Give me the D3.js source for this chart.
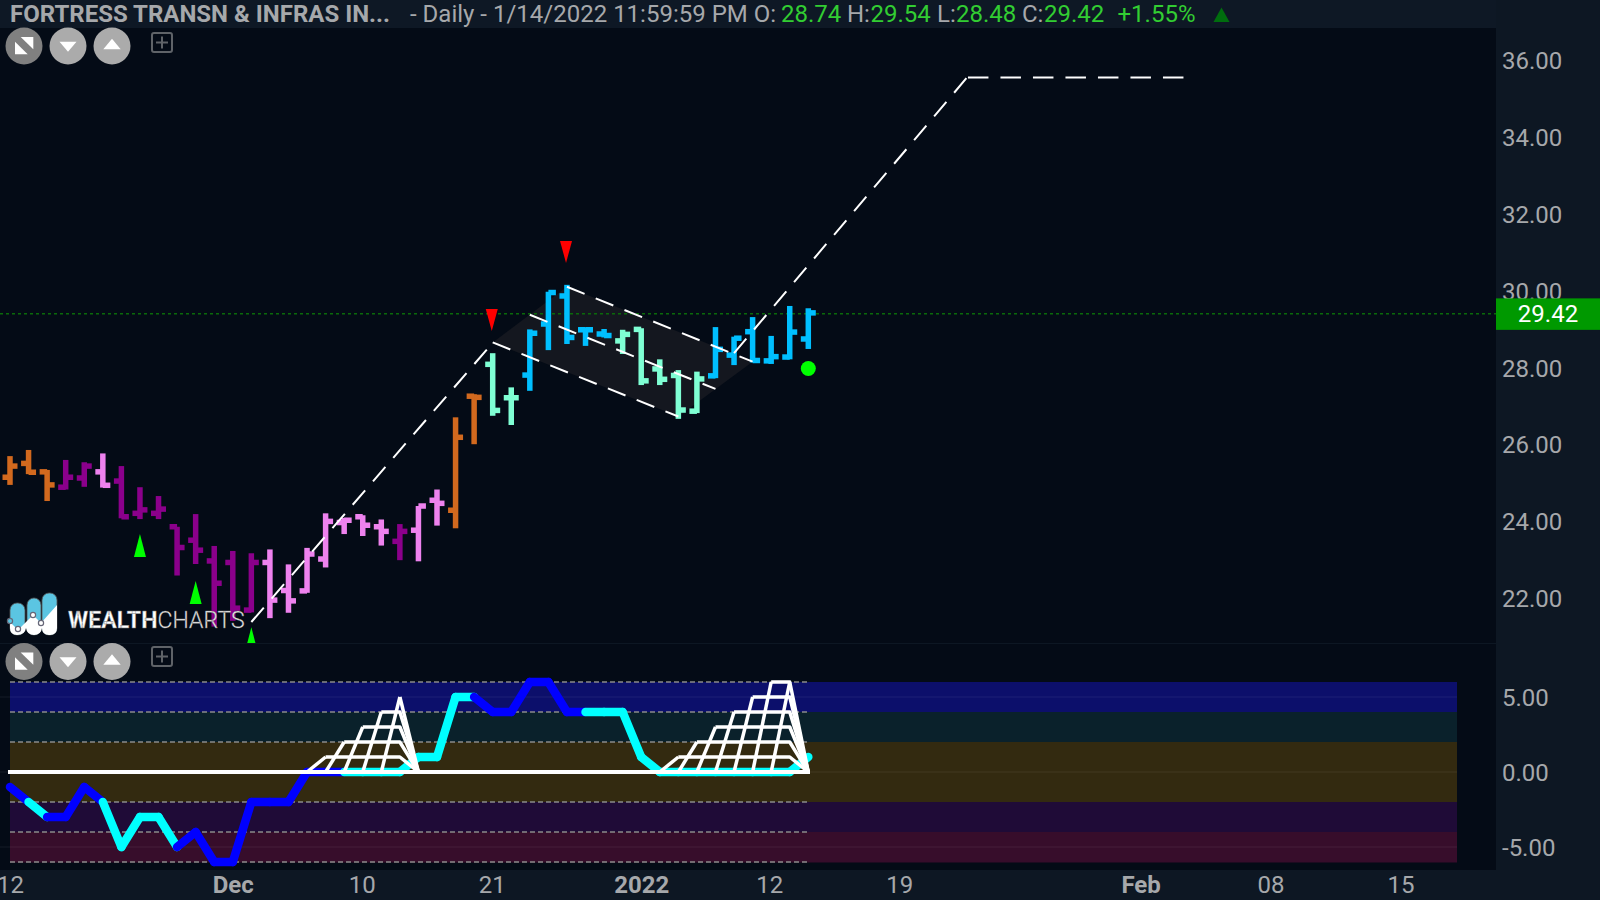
<!DOCTYPE html>
<html>
<head>
<meta charset="utf-8">
<script src="https://cdn.jsdelivr.net/npm/d3@7"></script>
<style>
html,body{margin:0;padding:0;background:#040b16;overflow:hidden}
svg{display:block}
text{font-family:Roboto,sans-serif}
</style>
</head>
<body>
<svg id="c" width="1600" height="900"></svg>
<script>
// ---------- data ----------
const opens  = [25.14,25.50,25.28,24.88,25.12,25.28,25.04,24.20,24.20,23.85,23.50,22.96,22.92,21.68,22.92,22.19,22.18,23.01,23.96,24.11,23.85,23.47,23.76,24.54,24.28,27.25,28.08,27.21,27.80,29.13,29.86,28.98,28.87,28.69,28.99,27.96,27.79,26.86,27.78,28.32,28.93,28.17,28.27,28.74];
const highs  = [25.69,25.85,25.33,25.59,25.53,25.76,25.43,24.88,24.65,23.85,24.18,23.35,23.22,23.16,23.26,22.87,23.30,24.20,24.08,24.15,24.04,23.92,24.39,24.82,26.70,27.30,28.37,27.48,28.99,29.97,30.15,29.04,29.00,28.98,29.02,28.21,27.93,27.89,29.05,28.80,29.31,28.82,29.60,29.54];
const lows   = [24.94,25.22,24.52,24.82,24.89,24.87,24.07,24.05,24.05,22.58,22.88,21.25,21.40,21.62,21.47,21.61,22.13,22.79,23.66,23.61,23.36,22.98,22.95,23.88,23.81,26.00,26.74,26.50,27.39,28.45,28.61,28.56,28.78,28.35,27.54,27.54,26.66,26.81,27.72,28.06,28.13,28.09,28.21,28.48];
const closes = [25.43,25.27,24.94,25.14,25.43,24.93,24.11,24.29,24.31,23.31,23.24,22.38,21.73,22.92,21.94,21.92,23.14,23.99,24.02,23.89,23.73,23.73,24.39,24.46,26.18,27.22,26.88,27.21,28.89,29.95,28.78,28.98,28.83,28.86,27.65,27.69,26.89,27.70,28.47,28.76,28.18,28.28,28.92,29.42];
const trend  = ["o","o","o","p","p","v","p","p","p","p","p","p","p","p","v","v","v","v","v","v","v","p","v","v","o","o","m","m","b","b","b","b","b","m","m","m","m","m","b","b","b","b","b","b"];
const gmo    = [-1,-2,-3,-3,-1,-2,-5,-3,-3,-5,-4,-6,-6,-2,-2,-2,0,0,0,0,0,0,1,1,5,5,4,4,6,6,4,4,4,4,1,0,0,0,0,0,0,0,0,1];
const gmoTrend = ["b","c","b","b","b","c","c","c","c","b","b","b","b","b","b","b","b","b","c","c","c","c","c","c","c","b","b","b","b","b","b","c","c","c","c","c","c","c","c","c","c","c","c"];
const wedgeA = [[17,1],[18,2],[19,3],[20,4],[21,5]];
const wedgeB = [[36,1],[37,2],[38,3],[39,4],[40,5],[41,6],[42,6]];
const priceTicks = [36,34,32,30,28,26,24,22];
const gmoTicks = [5,0,-5];
const bandEdges = [6,4,2,-2,-4,-6];
const gmoDashed = [6,4,2,-2,-4,-6];
const timeTicks = [[0,"12"],[12,"Dec"],[18.95,"10"],[25.95,"21"],[34,"2022"],[40.9,"12"],[47.9,"19"],[60.9,"Feb"],[67.9,"08"],[74.9,"15"]];
const boldTicks = ["Dec","2022","Feb"];
const upSignals = [[7,23.66],[10,22.44],[13,21.23]];
const downSignals = [[29.95,30.72],[25.95,28.95]];
const dotSignal = [43,27.97];
const lastClose = 29.42;
const channelLines = [[[30,30.10],[40,28.15]],[[28,29.37],[38,27.44]],[[26,28.65],[36,26.72]]];
const channelFill = [[26,28.65],[30,30.10],[40,28.15],[36,26.72]];
const trendIn = [[13,21.37],[26,28.64]];
const trendOut = [[39,28.37],[51.55,35.55]];
const trendFlat = [[51.6,35.55],[63.35,35.55]];
const header = [["- Daily - 1/14/2022 11:59:59 PM O:",410,0],["28.74",781,1],["H:",847,0],["29.54",870.5,1],["L:",937,0],["28.48",956,1],["C:",1022,0],["29.42",1044,1],["+1.55%",1117.5,1]];

// ---------- scales ----------
const x = d3.scaleLinear().domain([0,43]).range([10,808.3]);
const y = d3.scaleLinear().domain([36,22]).range([60.2,597.8]);
const yG = d3.scaleLinear().domain([6,-6]).range([682,862]);
const barColor = {o:"#d2691e",p:"#8b008b",v:"#ee82ee",m:"#7fffd4",b:"#00bfff"};
const gmoColor = {b:"#0000ff",c:"#00ffff"};
const bandColor = ["#0c0f6b","#0a212b","#332a10","#1f0b37","#370d2b"];
const svg = d3.select("#c");
const pt = d => [x(d[0]),y(d[1])];

// ---------- chrome ----------
svg.append("rect").attr("width",1600).attr("height",900).attr("fill","#040b16");
svg.append("rect").attr("width",1600).attr("height",28).attr("fill","#0e1825");
svg.append("rect").attr("x",1496).attr("width",104).attr("height",900).attr("fill","#0d1723");
svg.append("rect").attr("y",870).attr("width",1600).attr("height",30).attr("fill","#0d1723");
svg.append("line").attr("x1",0).attr("x2",1496).attr("y1",643.5).attr("y2",643.5).attr("stroke","#0d1723");

const defs = svg.append("defs");
defs.append("clipPath").attr("id","pane").append("rect").attr("x",0).attr("y",28).attr("width",1496).attr("height",615);

// ---------- price pane ----------
const pane = svg.append("g").attr("clip-path","url(#pane)");
pane.append("path").attr("d",d3.line()(channelFill.map(pt))+"Z").attr("fill","#14171f");
pane.append("line").attr("x1",0).attr("x2",1496).attr("y1",y(lastClose)+1).attr("y2",y(lastClose)+1)
  .attr("stroke","#0a6a0a").attr("stroke-width",1.5).attr("stroke-dasharray","3,3");

const bars = pane.selectAll("g.bar").data(opens.map((o,i)=>({i,o,h:highs[i],l:lows[i],c:closes[i],t:trend[i]}))).join("g")
  .attr("stroke",d=>barColor[d.t]).attr("stroke-width",5.5);
bars.append("line").attr("x1",d=>x(d.i)).attr("x2",d=>x(d.i)).attr("y1",d=>y(d.h)).attr("y2",d=>y(d.l));
bars.append("line").attr("x1",d=>x(d.i)-7.5).attr("x2",d=>x(d.i)).attr("y1",d=>y(d.o)).attr("y2",d=>y(d.o));
bars.append("line").attr("x1",d=>x(d.i)).attr("x2",d=>x(d.i)+7.5).attr("y1",d=>y(d.c)).attr("y2",d=>y(d.c));

const dash = d3.line();
[...channelLines,trendIn,trendOut].forEach(l=>{
  pane.append("path").attr("d",dash(l.map(pt))).attr("fill","none").attr("stroke","#fff")
    .attr("stroke-width",2).attr("stroke-dasharray","19,12");
});
pane.append("path").attr("d",dash(trendFlat.map(pt))).attr("fill","none").attr("stroke","#fff")
  .attr("stroke-width",2).attr("stroke-dasharray","20.5,12");
pane.selectAll("path.up").data(upSignals).join("path").attr("fill","#00ff00")
  .attr("d",d=>{const [a,b]=pt(d);return `M${a},${b}L${a+6},${b+23}L${a-6},${b+23}Z`;});
pane.selectAll("path.down").data(downSignals).join("path").attr("fill","#ff0000")
  .attr("d",d=>{const [a,b]=pt(d);return `M${a},${b}L${a+6},${b-22}L${a-6},${b-22}Z`;});
pane.append("circle").attr("cx",x(dotSignal[0])).attr("cy",y(dotSignal[1])).attr("r",7.5).attr("fill","#00ff00");

// ---------- logo ----------
const logo = svg.append("g").attr("class","logo");
[[10,603,15],[27,598,14],[42,593,15]].forEach(([a,b,w],k)=>{
  logo.append("rect").attr("x",a).attr("y",b).attr("width",w).attr("height",635-b).attr("rx",7).attr("fill","#5bc5e2").attr("stroke","#555").attr("stroke-width",.8);
});
logo.append("path").attr("d","M10,622 L18,630 L33,615 L41,623 L57,605 L57,628 Q57,635 50,635 L49,635 Q42,635 42,628 Q41,635 34,635 Q27,635 26,628 Q25,635 17,635 Q10,635 10,628Z").attr("fill","#fff");
[[10,621],[18,629],[33,615],[41,623]].forEach(([a,b],k)=>{
  logo.append("circle").attr("cx",a).attr("cy",b).attr("r",2.6).attr("fill",k==0?"#5bc5e2":"#fff").attr("stroke","#667").attr("stroke-width",1.2);
});
const lt = logo.append("text").attr("x",68).attr("y",628).attr("font-size",23).attr("fill","#fff").attr("stroke","#777").attr("stroke-width",.4).attr("letter-spacing",0.1);
lt.append("tspan").attr("font-weight",700).text("WEALTH");
lt.append("tspan").attr("font-weight",300).text("CHARTS");

// ---------- buttons ----------
function buttons(cy,by){
  const g = svg.append("g");
  [[24,"#808080"],[68,"#ababab"],[112,"#ababab"]].forEach(([cx,f])=>{
    g.append("circle").attr("cx",cx).attr("cy",cy).attr("r",18.5).attr("fill",f);
  });
  const tri = (cx,p)=>g.append("path").attr("fill","#fff").attr("d","M"+p.map(q=>[cx+q[0],cy+q[1]].join(",")).join("L")+"Z");
  tri(24,[[-3.3,-9],[9.3,-9],[9.3,3.3]]);
  tri(24,[[-9,-4.3],[-9,8.3],[3.7,8.3]]);
  tri(68,[[-8.5,-4.3],[8.5,-4.3],[0,5.7]]);
  tri(112,[[-8.7,3.3],[8.7,3.3],[0,-7.3]]);
  g.append("rect").attr("x",152).attr("y",by).attr("width",20).attr("height",19).attr("rx",2).attr("fill","none").attr("stroke","#5f6368").attr("stroke-width",2);
  g.append("path").attr("d",`M156,${by+9.5}H168M162,${by+3.5}V${by+15.5}`).attr("stroke","#5f6368").attr("stroke-width",2);
}
buttons(46,33);
buttons(661.5,647);

// ---------- oscillator pane ----------
const osc = svg.append("g");
d3.pairs(bandEdges).forEach(([a,b],i)=>{
  osc.append("rect").attr("x",10).attr("width",1447).attr("y",yG(a)).attr("height",yG(b)-yG(a)+.5).attr("fill",bandColor[i]);
});
gmoTicks.forEach(v=>{
  osc.append("line").attr("x1",0).attr("x2",1457).attr("y1",yG(v)).attr("y2",yG(v)).attr("stroke","#ffffff").attr("stroke-opacity",.07);
});
gmoDashed.forEach(v=>{
  osc.append("line").attr("x1",10).attr("x2",809).attr("y1",yG(v)).attr("y2",yG(v))
    .attr("stroke","#8a8a8a").attr("stroke-width",1.5).attr("stroke-dasharray","5,3");
});
gmoTrend.forEach((t,i)=>{
  osc.append("line").attr("x1",x(i)).attr("x2",x(i+1)).attr("y1",yG(gmo[i])).attr("y2",yG(gmo[i+1]))
    .attr("stroke",gmoColor[t]).attr("stroke-width",8.5).attr("stroke-linecap","round");
});
osc.append("line").attr("x1",8).attr("x2",810).attr("y1",yG(0)).attr("y2",yG(0)).attr("stroke","#fff").attr("stroke-width",4);
function wedge(w){
  const g = osc.append("g").attr("fill","none").attr("stroke","#fff").attr("stroke-width",3.5).attr("stroke-linejoin","round");
  const last = w[w.length-1][0], end = last+1;
  const l = d3.line().x(d=>x(d[0])).y(d=>yG(d[1]));
  w.forEach(([b,v])=>{
    g.append("path").attr("d",l([[b-1,0],[b,v]]));
  });
  w.forEach(([b,v],k)=>{
    if(k>0 && w[k-1][1]===v) return;
    g.append("path").attr("d",l([[b,v],[last,v],[end,0]]));
  });
}
wedge(wedgeA);
wedge(wedgeB);

// ---------- axes ----------
const fmt = v => d3.format(".2f")(v).replace("\u2212","-");
const axisStyle = (g,size)=>{
  g.select(".domain").remove();
  g.selectAll("line").remove();
  g.selectAll("text").attr("fill","#a6a8ab").attr("font-size",size).attr("font-family","Roboto,sans-serif");
};
svg.append("g").attr("transform","translate(1496,1)")
  .call(d3.axisRight(y).tickValues(priceTicks).tickFormat(fmt).tickSize(0).tickPadding(6))
  .call(g=>axisStyle(g,24));
svg.append("g").attr("transform","translate(1496,0.5)")
  .call(d3.axisRight(yG).tickValues(gmoTicks).tickFormat(fmt).tickSize(0).tickPadding(6))
  .call(g=>axisStyle(g,24));
svg.append("g").attr("transform","translate(0,870)")
  .call(d3.axisBottom(x).tickValues(timeTicks.map(d=>d[0])).tickFormat((d,i)=>timeTicks[i][1]).tickSize(0).tickPadding(6))
  .call(g=>axisStyle(g,24))
  .call(g=>g.selectAll("text").attr("font-weight",(d,i)=>boldTicks.includes(timeTicks[i][1])?700:400));

// ---------- last price tag ----------
svg.append("rect").attr("x",1496).attr("y",y(lastClose)-14.5).attr("width",104).attr("height",31.5).attr("fill","#009900");
svg.append("text").attr("x",1548).attr("y",y(lastClose)+9.5).attr("text-anchor","middle").attr("fill","#fff").attr("font-size",24).text(d3.format(".2f")(lastClose));

// ---------- header ----------
svg.append("text").attr("x",10).attr("y",22).attr("font-size",24).attr("font-weight",700).attr("fill","#a6a8ab").text("FORTRESS TRANSN & INFRAS IN...");
header.forEach(([s,a,g])=>{
  svg.append("text").attr("x",a).attr("y",22).attr("font-size",24).attr("fill",g?"#32cd32":"#a6a8ab").text(s);
});
svg.append("path").attr("d","M1221.5,7.5L1229.5,22H1213.5Z").attr("fill","#006d0e");
</script>
</body>
</html>
